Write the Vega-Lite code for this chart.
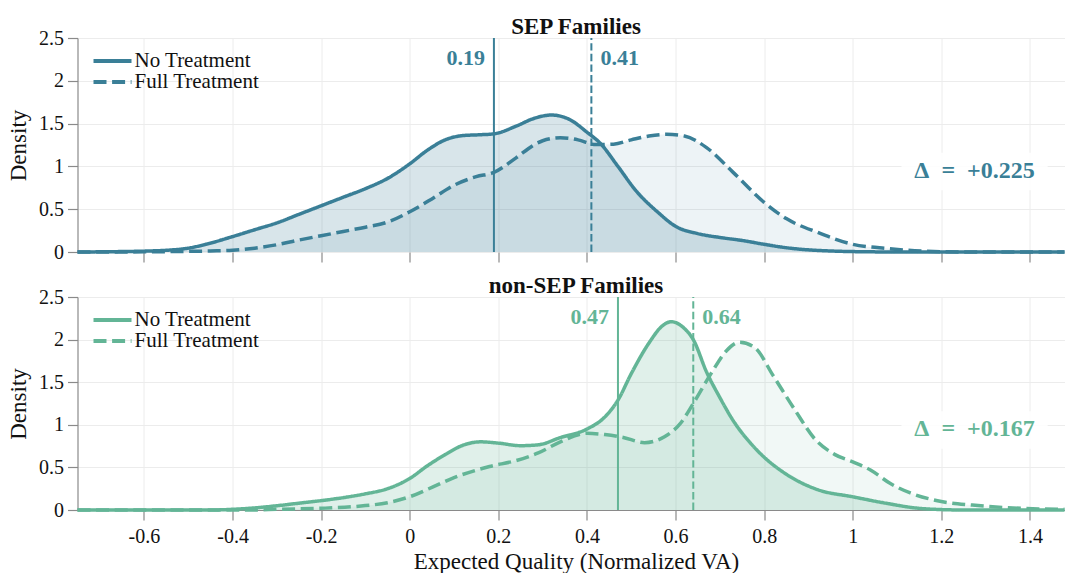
{
  "$schema": "https://vega.github.io/schema/vega-lite/v6.json",
  "background": "white",
  "padding": {"left": 7.5, "top": 16, "right": 0, "bottom": 0},
  "spacing": 45,
  "bounds": "flush",
  "config": {
    "font": "Liberation Serif",
    "view": {"stroke": null},
    "axis": {
      "labelFont": "Liberation Serif", "labelFontSize": 20, "labelColor": "#111",
      "titleFont": "Liberation Serif", "titleFontSize": 23, "titleFontWeight": "normal", "titleColor": "#111",
      "gridColor": "#ececec", "gridWidth": 1,
      "domainColor": "#8a8a8a", "tickColor": "#8a8a8a", "tickSize": 10, "domainWidth": 1.2, "tickWidth": 1.2
    },
    "title": {"font": "Liberation Serif", "fontSize": 23, "fontWeight": "bold", "color": "#111"},
    "legend": {
      "orient": "none", "legendX": 14, "legendY": 13, "title": null,
      "symbolType": "stroke", "symbolSize": 1444, "symbolStrokeWidth": 4,
      "labelFont": "Liberation Serif", "labelFontSize": 21, "labelColor": "#111",
      "labelOffset": 1, "rowPadding": 0, "clipHeight": 20, "padding": 0
    }
  },
  "datasets": {
    "sep": [
      {"series": "No Treatment", "x": -0.75, "y": 0}, {"series": "No Treatment", "x": -0.65, "y": 0.005}, {"series": "No Treatment", "x": -0.6, "y": 0.01}, {"series": "No Treatment", "x": -0.55, "y": 0.02}, {"series": "No Treatment", "x": -0.5, "y": 0.045}, {"series": "No Treatment", "x": -0.46, "y": 0.09}, {"series": "No Treatment", "x": -0.4, "y": 0.18}, {"series": "No Treatment", "x": -0.35, "y": 0.26}, {"series": "No Treatment", "x": -0.3, "y": 0.34}, {"series": "No Treatment", "x": -0.25, "y": 0.44}, {"series": "No Treatment", "x": -0.2, "y": 0.54}, {"series": "No Treatment", "x": -0.15, "y": 0.64}, {"series": "No Treatment", "x": -0.1, "y": 0.74}, {"series": "No Treatment", "x": -0.05, "y": 0.86}, {"series": "No Treatment", "x": 0, "y": 1.03}, {"series": "No Treatment", "x": 0.04, "y": 1.19}, {"series": "No Treatment", "x": 0.08, "y": 1.31}, {"series": "No Treatment", "x": 0.12, "y": 1.36}, {"series": "No Treatment", "x": 0.16, "y": 1.37}, {"series": "No Treatment", "x": 0.19, "y": 1.38}, {"series": "No Treatment", "x": 0.24, "y": 1.47}, {"series": "No Treatment", "x": 0.28, "y": 1.56}, {"series": "No Treatment", "x": 0.32, "y": 1.6}, {"series": "No Treatment", "x": 0.36, "y": 1.55}, {"series": "No Treatment", "x": 0.4, "y": 1.4}, {"series": "No Treatment", "x": 0.43, "y": 1.27}, {"series": "No Treatment", "x": 0.47, "y": 1.0}, {"series": "No Treatment", "x": 0.51, "y": 0.72}, {"series": "No Treatment", "x": 0.56, "y": 0.465}, {"series": "No Treatment", "x": 0.6, "y": 0.3}, {"series": "No Treatment", "x": 0.65, "y": 0.215}, {"series": "No Treatment", "x": 0.7, "y": 0.17}, {"series": "No Treatment", "x": 0.75, "y": 0.135}, {"series": "No Treatment", "x": 0.8, "y": 0.09}, {"series": "No Treatment", "x": 0.85, "y": 0.05}, {"series": "No Treatment", "x": 0.9, "y": 0.025}, {"series": "No Treatment", "x": 0.96, "y": 0.01}, {"series": "No Treatment", "x": 1.04, "y": 0.002}, {"series": "No Treatment", "x": 1.1, "y": 0}, {"series": "No Treatment", "x": 1.478, "y": 0},
      {"series": "Full Treatment", "x": -0.75, "y": 0}, {"series": "Full Treatment", "x": -0.6, "y": 0.002}, {"series": "Full Treatment", "x": -0.5, "y": 0.008}, {"series": "Full Treatment", "x": -0.45, "y": 0.012}, {"series": "Full Treatment", "x": -0.4, "y": 0.02}, {"series": "Full Treatment", "x": -0.35, "y": 0.045}, {"series": "Full Treatment", "x": -0.3, "y": 0.085}, {"series": "Full Treatment", "x": -0.25, "y": 0.14}, {"series": "Full Treatment", "x": -0.2, "y": 0.19}, {"series": "Full Treatment", "x": -0.15, "y": 0.24}, {"series": "Full Treatment", "x": -0.1, "y": 0.29}, {"series": "Full Treatment", "x": -0.05, "y": 0.35}, {"series": "Full Treatment", "x": 0, "y": 0.47}, {"series": "Full Treatment", "x": 0.05, "y": 0.62}, {"series": "Full Treatment", "x": 0.1, "y": 0.78}, {"series": "Full Treatment", "x": 0.15, "y": 0.88}, {"series": "Full Treatment", "x": 0.19, "y": 0.93}, {"series": "Full Treatment", "x": 0.24, "y": 1.1}, {"series": "Full Treatment", "x": 0.28, "y": 1.25}, {"series": "Full Treatment", "x": 0.3, "y": 1.3}, {"series": "Full Treatment", "x": 0.34, "y": 1.335}, {"series": "Full Treatment", "x": 0.38, "y": 1.31}, {"series": "Full Treatment", "x": 0.42, "y": 1.255}, {"series": "Full Treatment", "x": 0.46, "y": 1.26}, {"series": "Full Treatment", "x": 0.5, "y": 1.31}, {"series": "Full Treatment", "x": 0.54, "y": 1.355}, {"series": "Full Treatment", "x": 0.58, "y": 1.375}, {"series": "Full Treatment", "x": 0.62, "y": 1.355}, {"series": "Full Treatment", "x": 0.67, "y": 1.22}, {"series": "Full Treatment", "x": 0.73, "y": 0.93}, {"series": "Full Treatment", "x": 0.8, "y": 0.58}, {"series": "Full Treatment", "x": 0.85, "y": 0.39}, {"series": "Full Treatment", "x": 0.92, "y": 0.23}, {"series": "Full Treatment", "x": 1.0, "y": 0.09}, {"series": "Full Treatment", "x": 1.08, "y": 0.04}, {"series": "Full Treatment", "x": 1.14, "y": 0.015}, {"series": "Full Treatment", "x": 1.2, "y": 0.003}, {"series": "Full Treatment", "x": 1.25, "y": 0}, {"series": "Full Treatment", "x": 1.478, "y": 0}
    ],
    "nonsep": [
      {"series": "No Treatment", "x": -0.75, "y": 0}, {"series": "No Treatment", "x": -0.45, "y": 0}, {"series": "No Treatment", "x": -0.4, "y": 0.008}, {"series": "No Treatment", "x": -0.35, "y": 0.025}, {"series": "No Treatment", "x": -0.3, "y": 0.05}, {"series": "No Treatment", "x": -0.25, "y": 0.08}, {"series": "No Treatment", "x": -0.2, "y": 0.11}, {"series": "No Treatment", "x": -0.15, "y": 0.145}, {"series": "No Treatment", "x": -0.1, "y": 0.19}, {"series": "No Treatment", "x": -0.05, "y": 0.25}, {"series": "No Treatment", "x": 0, "y": 0.37}, {"series": "No Treatment", "x": 0.04, "y": 0.52}, {"series": "No Treatment", "x": 0.08, "y": 0.65}, {"series": "No Treatment", "x": 0.12, "y": 0.76}, {"series": "No Treatment", "x": 0.16, "y": 0.8}, {"series": "No Treatment", "x": 0.2, "y": 0.785}, {"series": "No Treatment", "x": 0.25, "y": 0.755}, {"series": "No Treatment", "x": 0.29, "y": 0.765}, {"series": "No Treatment", "x": 0.34, "y": 0.85}, {"series": "No Treatment", "x": 0.4, "y": 0.95}, {"series": "No Treatment", "x": 0.44, "y": 1.09}, {"series": "No Treatment", "x": 0.47, "y": 1.29}, {"series": "No Treatment", "x": 0.5, "y": 1.6}, {"series": "No Treatment", "x": 0.54, "y": 1.96}, {"series": "No Treatment", "x": 0.57, "y": 2.16}, {"series": "No Treatment", "x": 0.59, "y": 2.21}, {"series": "No Treatment", "x": 0.62, "y": 2.13}, {"series": "No Treatment", "x": 0.64, "y": 2.0}, {"series": "No Treatment", "x": 0.67, "y": 1.62}, {"series": "No Treatment", "x": 0.7, "y": 1.32}, {"series": "No Treatment", "x": 0.73, "y": 1.05}, {"series": "No Treatment", "x": 0.77, "y": 0.78}, {"series": "No Treatment", "x": 0.8, "y": 0.62}, {"series": "No Treatment", "x": 0.85, "y": 0.42}, {"series": "No Treatment", "x": 0.92, "y": 0.24}, {"series": "No Treatment", "x": 1.0, "y": 0.155}, {"series": "No Treatment", "x": 1.08, "y": 0.075}, {"series": "No Treatment", "x": 1.14, "y": 0.025}, {"series": "No Treatment", "x": 1.2, "y": 0.005}, {"series": "No Treatment", "x": 1.25, "y": 0}, {"series": "No Treatment", "x": 1.478, "y": 0},
      {"series": "Full Treatment", "x": -0.75, "y": 0}, {"series": "Full Treatment", "x": -0.35, "y": 0}, {"series": "Full Treatment", "x": -0.3, "y": 0.008}, {"series": "Full Treatment", "x": -0.2, "y": 0.02}, {"series": "Full Treatment", "x": -0.11, "y": 0.047}, {"series": "Full Treatment", "x": -0.05, "y": 0.086}, {"series": "Full Treatment", "x": 0, "y": 0.156}, {"series": "Full Treatment", "x": 0.05, "y": 0.265}, {"series": "Full Treatment", "x": 0.1, "y": 0.38}, {"series": "Full Treatment", "x": 0.18, "y": 0.51}, {"series": "Full Treatment", "x": 0.24, "y": 0.58}, {"series": "Full Treatment", "x": 0.29, "y": 0.67}, {"series": "Full Treatment", "x": 0.34, "y": 0.8}, {"series": "Full Treatment", "x": 0.4, "y": 0.9}, {"series": "Full Treatment", "x": 0.44, "y": 0.885}, {"series": "Full Treatment", "x": 0.48, "y": 0.855}, {"series": "Full Treatment", "x": 0.53, "y": 0.79}, {"series": "Full Treatment", "x": 0.575, "y": 0.86}, {"series": "Full Treatment", "x": 0.61, "y": 1.01}, {"series": "Full Treatment", "x": 0.64, "y": 1.25}, {"series": "Full Treatment", "x": 0.68, "y": 1.6}, {"series": "Full Treatment", "x": 0.715, "y": 1.87}, {"series": "Full Treatment", "x": 0.745, "y": 1.97}, {"series": "Full Treatment", "x": 0.78, "y": 1.9}, {"series": "Full Treatment", "x": 0.82, "y": 1.58}, {"series": "Full Treatment", "x": 0.87, "y": 1.17}, {"series": "Full Treatment", "x": 0.915, "y": 0.83}, {"series": "Full Treatment", "x": 0.96, "y": 0.65}, {"series": "Full Treatment", "x": 1.0, "y": 0.565}, {"series": "Full Treatment", "x": 1.04, "y": 0.47}, {"series": "Full Treatment", "x": 1.085, "y": 0.31}, {"series": "Full Treatment", "x": 1.13, "y": 0.2}, {"series": "Full Treatment", "x": 1.2, "y": 0.1}, {"series": "Full Treatment", "x": 1.27, "y": 0.058}, {"series": "Full Treatment", "x": 1.35, "y": 0.027}, {"series": "Full Treatment", "x": 1.42, "y": 0.012}, {"series": "Full Treatment", "x": 1.478, "y": 0.008}
    ],
    "sepMeans": [{"series": "No Treatment", "mean": 0.19, "y0": 0, "y1": 2.5, "ly": 2.27, "label": "0.19"}, {"series": "Full Treatment", "mean": 0.41, "y0": 0, "y1": 2.5, "ly": 2.27, "label": "0.41"}],
    "nonsepMeans": [{"series": "No Treatment", "mean": 0.47, "y0": 0, "y1": 2.5, "ly": 2.27, "label": "0.47"}, {"series": "Full Treatment", "mean": 0.64, "y0": 0, "y1": 2.5, "ly": 2.27, "label": "0.64"}],
    "sepDelta": [{"x": 1.275, "y": 0.946, "x0": 1.11, "x1": 1.44, "y0": 0.72, "y1": 1.16, "label": "Δ\u00a0\u00a0=\u00a0\u00a0+0.225"}],
    "nonsepDelta": [{"x": 1.275, "y": 0.95, "x0": 1.11, "x1": 1.44, "y0": 0.72, "y1": 1.16, "label": "Δ\u00a0\u00a0=\u00a0\u00a0+0.167"}]
  },
  "resolve": {"scale": {"strokeDash": "independent"}, "legend": {"strokeDash": "independent"}},
  "vconcat": [
    {
      "width": 987, "height": 214,
      "title": {"text": "SEP Families", "dx": 5, "offset": -11},
      "layer": [
        {"data": {"name": "sepDelta"}, "mark": {"type": "rect", "fill": "white", "opacity": 0.9},
         "encoding": {"x": {"field": "x0", "type": "quantitative", "scale": {"domain": [-0.75, 1.478], "nice": false, "zero": false},
            "axis": {"values": [-0.6, -0.4, -0.2, 0, 0.2, 0.4, 0.6, 0.8, 1, 1.2, 1.4], "labels": false, "title": null, "domain": false, "ticks": true, "grid": true}},
           "x2": {"field": "x1"},
           "y": {"field": "y0", "type": "quantitative", "scale": {"domain": [0, 2.5], "nice": false}, "axis": {"values": [0, 0.5, 1, 1.5, 2, 2.5], "format": "~g", "title": "Density", "titlePadding": 8, "labelPadding": 4, "grid": true}},
           "y2": {"field": "y1"}}},
        {"data": {"name": "sep"}, "transform": [{"filter": "datum.series === 'No Treatment'"}],
         "mark": {"type": "area", "color": "#3a7f97", "opacity": 0.2, "interpolate": "monotone"},
         "encoding": {"x": {"field": "x", "type": "quantitative"}, "y": {"field": "y", "type": "quantitative"}}},
        {"data": {"name": "sep"}, "transform": [{"filter": "datum.series === 'Full Treatment'"}],
         "mark": {"type": "area", "color": "#3a7f97", "opacity": 0.09, "interpolate": "monotone"},
         "encoding": {"x": {"field": "x", "type": "quantitative"}, "y": {"field": "y", "type": "quantitative"}}},
        {"data": {"name": "sepMeans"}, "transform": [{"filter": "datum.series === 'No Treatment'"}],
         "mark": {"type": "rule", "color": "#3a7f97", "strokeWidth": 2},
         "encoding": {"x": {"field": "mean", "type": "quantitative"}, "y": {"field": "y0", "type": "quantitative"}, "y2": {"field": "y1"}}},
        {"data": {"name": "sepMeans"}, "transform": [{"filter": "datum.series === 'Full Treatment'"}],
         "mark": {"type": "rule", "color": "#3a7f97", "strokeWidth": 2, "strokeDash": [7.4, 3.2]},
         "encoding": {"x": {"field": "mean", "type": "quantitative"}, "y": {"field": "y0", "type": "quantitative"}, "y2": {"field": "y1"}}},
        {"data": {"name": "sep"},
         "mark": {"type": "line", "color": "#3a7f97", "strokeWidth": 3.5, "interpolate": "monotone"},
         "encoding": {"x": {"field": "x", "type": "quantitative"}, "y": {"field": "y", "type": "quantitative"},
           "detail": {"field": "series"},
           "strokeDash": {"field": "series", "type": "nominal", "scale": {"domain": ["No Treatment", "Full Treatment"], "range": [[1, 0], [13, 5.6]]},
             "legend": {"symbolStrokeColor": "#3a7f97"}}}},
        {"data": {"name": "sepMeans"}, "transform": [{"filter": "datum.series === 'No Treatment'"}],
         "mark": {"type": "text", "color": "#3a7f97", "fontSize": 22, "fontWeight": "bold", "align": "right", "baseline": "middle", "dx": -9},
         "encoding": {"x": {"field": "mean", "type": "quantitative"}, "y": {"field": "ly", "type": "quantitative"}, "text": {"field": "label"}}},
        {"data": {"name": "sepMeans"}, "transform": [{"filter": "datum.series === 'Full Treatment'"}],
         "mark": {"type": "text", "color": "#3a7f97", "fontSize": 22, "fontWeight": "bold", "align": "left", "baseline": "middle", "dx": 9},
         "encoding": {"x": {"field": "mean", "type": "quantitative"}, "y": {"field": "ly", "type": "quantitative"}, "text": {"field": "label"}}},
        {"data": {"name": "sepDelta"},
         "mark": {"type": "text", "color": "#3a7f97", "fontSize": 24, "fontWeight": "bold", "align": "center", "baseline": "middle"},
         "encoding": {"x": {"field": "x", "type": "quantitative"}, "y": {"field": "y", "type": "quantitative"}, "text": {"field": "label"}}}
      ]
    },
    {
      "width": 987, "height": 213,
      "title": {"text": "non-SEP Families", "dx": 5, "offset": -11},
      "layer": [
        {"data": {"name": "nonsepDelta"}, "mark": {"type": "rect", "fill": "white", "opacity": 0.9},
         "encoding": {"x": {"field": "x0", "type": "quantitative", "scale": {"domain": [-0.75, 1.478], "nice": false, "zero": false},
            "axis": {"values": [-0.6, -0.4, -0.2, 0, 0.2, 0.4, 0.6, 0.8, 1, 1.2, 1.4], "labelExpr": "datum.value < 0 ? '-' + format(-datum.value, '~g') : format(datum.value, '~g')", "title": "Expected Quality (Normalized VA)", "titleX": 498.5, "labelPadding": 6, "titlePadding": 4, "grid": true}},
           "x2": {"field": "x1"},
           "y": {"field": "y0", "type": "quantitative", "scale": {"domain": [0, 2.5], "nice": false}, "axis": {"values": [0, 0.5, 1, 1.5, 2, 2.5], "format": "~g", "title": "Density", "titlePadding": 8, "labelPadding": 4, "grid": true}},
           "y2": {"field": "y1"}}},
        {"data": {"name": "nonsep"}, "transform": [{"filter": "datum.series === 'No Treatment'"}],
         "mark": {"type": "area", "color": "#63b596", "opacity": 0.2, "interpolate": "monotone"},
         "encoding": {"x": {"field": "x", "type": "quantitative"}, "y": {"field": "y", "type": "quantitative"}}},
        {"data": {"name": "nonsep"}, "transform": [{"filter": "datum.series === 'Full Treatment'"}],
         "mark": {"type": "area", "color": "#63b596", "opacity": 0.09, "interpolate": "monotone"},
         "encoding": {"x": {"field": "x", "type": "quantitative"}, "y": {"field": "y", "type": "quantitative"}}},
        {"data": {"name": "nonsepMeans"}, "transform": [{"filter": "datum.series === 'No Treatment'"}],
         "mark": {"type": "rule", "color": "#63b596", "strokeWidth": 2},
         "encoding": {"x": {"field": "mean", "type": "quantitative"}, "y": {"field": "y0", "type": "quantitative"}, "y2": {"field": "y1"}}},
        {"data": {"name": "nonsepMeans"}, "transform": [{"filter": "datum.series === 'Full Treatment'"}],
         "mark": {"type": "rule", "color": "#63b596", "strokeWidth": 2, "strokeDash": [7.4, 3.2]},
         "encoding": {"x": {"field": "mean", "type": "quantitative"}, "y": {"field": "y0", "type": "quantitative"}, "y2": {"field": "y1"}}},
        {"data": {"name": "nonsep"},
         "mark": {"type": "line", "color": "#63b596", "strokeWidth": 3.5, "interpolate": "monotone"},
         "encoding": {"x": {"field": "x", "type": "quantitative"}, "y": {"field": "y", "type": "quantitative"},
           "detail": {"field": "series"},
           "strokeDash": {"field": "series", "type": "nominal", "scale": {"domain": ["No Treatment", "Full Treatment"], "range": [[1, 0], [13, 5.6]]},
             "legend": {"symbolStrokeColor": "#63b596"}}}},
        {"data": {"name": "nonsepMeans"}, "transform": [{"filter": "datum.series === 'No Treatment'"}],
         "mark": {"type": "text", "color": "#63b596", "fontSize": 22, "fontWeight": "bold", "align": "right", "baseline": "middle", "dx": -9},
         "encoding": {"x": {"field": "mean", "type": "quantitative"}, "y": {"field": "ly", "type": "quantitative"}, "text": {"field": "label"}}},
        {"data": {"name": "nonsepMeans"}, "transform": [{"filter": "datum.series === 'Full Treatment'"}],
         "mark": {"type": "text", "color": "#63b596", "fontSize": 22, "fontWeight": "bold", "align": "left", "baseline": "middle", "dx": 9},
         "encoding": {"x": {"field": "mean", "type": "quantitative"}, "y": {"field": "ly", "type": "quantitative"}, "text": {"field": "label"}}},
        {"data": {"name": "nonsepDelta"},
         "mark": {"type": "text", "color": "#63b596", "fontSize": 24, "fontWeight": "bold", "align": "center", "baseline": "middle"},
         "encoding": {"x": {"field": "x", "type": "quantitative"}, "y": {"field": "y", "type": "quantitative"}, "text": {"field": "label"}}}
      ]
    }
  ]
}
